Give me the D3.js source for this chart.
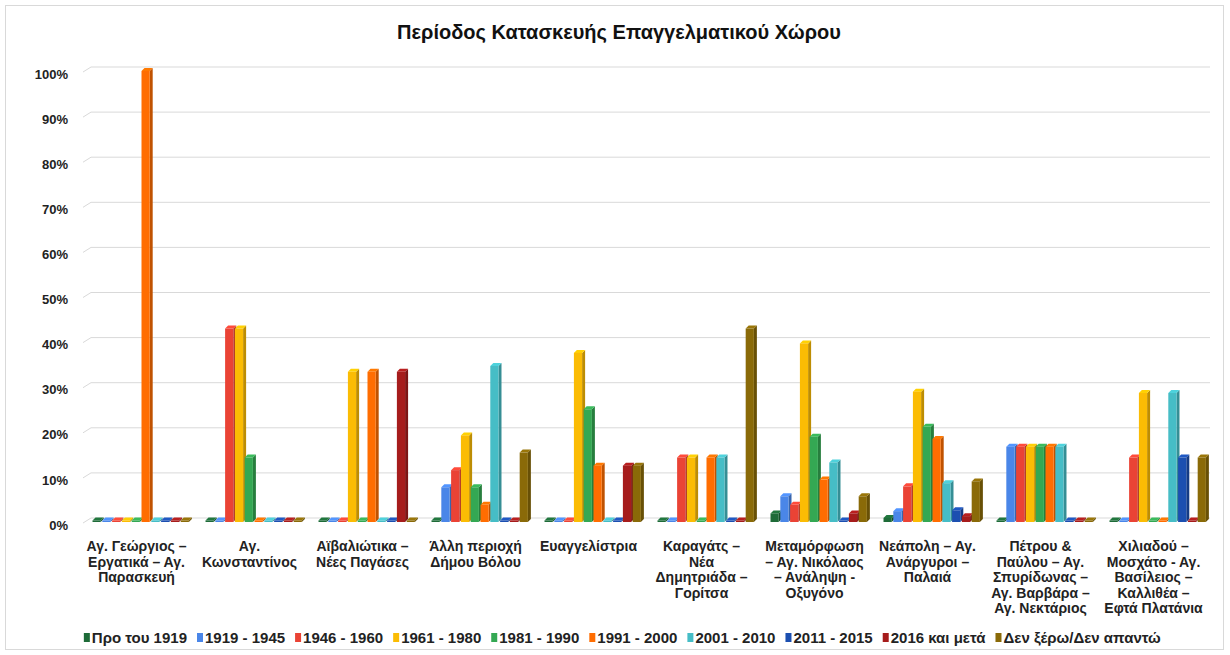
<!DOCTYPE html>
<html>
<head>
<meta charset="utf-8">
<script src="https://cdn.jsdelivr.net/npm/d3@7"></script>
<style>
  html, body { margin: 0; padding: 0; background: #fff; }
  svg { display: block; font-family: "Liberation Sans", Arial, sans-serif; }
</style>
</head>
<body>
<svg id="chart" width="1230" height="655"></svg>
<script>
// ---------------- DATA ----------------
const chartTitle = "Περίοδος Κατασκευής Επαγγελματικού Χώρου";

const categories = [
  "Αγ. Γεώργιος – Εργατικά – Αγ. Παρασκευή",
  "Αγ. Κωνσταντίνος",
  "Αϊβαλιώτικα – Νέες Παγάσες",
  "Άλλη περιοχή Δήμου Βόλου",
  "Ευαγγελίστρια",
  "Καραγάτς – Νέα Δημητριάδα – Γορίτσα",
  "Μεταμόρφωση – Αγ. Νικόλαος – Ανάληψη - Οξυγόνο",
  "Νεάπολη – Αγ. Ανάργυροι – Παλαιά",
  "Πέτρου & Παύλου – Αγ. Σπυρίδωνας – Αγ. Βαρβάρα – Αγ. Νεκτάριος",
  "Χιλιαδού – Μοσχάτο - Αγ. Βασίλειος – Καλλιθέα – Εφτά Πλατάνια"
];

const categoryLines = [
  ["Αγ. Γεώργιος –", "Εργατικά – Αγ.", "Παρασκευή"],
  ["Αγ.", "Κωνσταντίνος"],
  ["Αϊβαλιώτικα –", "Νέες Παγάσες"],
  ["Άλλη περιοχή", "Δήμου Βόλου"],
  ["Ευαγγελίστρια"],
  ["Καραγάτς –", "Νέα", "Δημητριάδα –", "Γορίτσα"],
  ["Μεταμόρφωση", "– Αγ. Νικόλαος", "– Ανάληψη -", "Οξυγόνο"],
  ["Νεάπολη – Αγ.", "Ανάργυροι –", "Παλαιά"],
  ["Πέτρου &", "Παύλου – Αγ.", "Σπυρίδωνας –", "Αγ. Βαρβάρα –", "Αγ. Νεκτάριος"],
  ["Χιλιαδού –", "Μοσχάτο - Αγ.", "Βασίλειος –", "Καλλιθέα –", "Εφτά Πλατάνια"]
];

const seriesNames = [
  "Προ του 1919", "1919 - 1945", "1946 - 1960", "1961 - 1980", "1981 - 1990",
  "1991 - 2000", "2001 - 2010", "2011 - 2015", "2016 και μετά", "Δεν ξέρω/Δεν απαντώ"
];

const seriesColors = [
  "#1e6b38", "#4a86e8", "#ea4335", "#fbbc04", "#34a853",
  "#ff6d01", "#46bdc6", "#1c4fb0", "#a61c1c", "#8a6a08"
];

// values in percent, one entry per category
const valPro1919   = [0, 0, 0, 0, 0, 0, 1.9, 0.9, 0, 0];
const val1919_1945 = [0, 0, 0, 7.7, 0, 0, 5.7, 2.4, 16.7, 0];
const val1946_1960 = [0, 42.9, 0, 11.5, 0, 14.3, 3.8, 7.9, 16.7, 14.3];
const val1961_1980 = [0, 42.9, 33.3, 19.2, 37.5, 14.3, 39.6, 28.9, 16.7, 28.6];
const val1981_1990 = [0, 14.3, 0, 7.7, 25.0, 0, 18.9, 21.1, 16.7, 0];
const val1991_2000 = [100, 0, 33.3, 3.8, 12.5, 14.3, 9.4, 18.4, 16.7, 0];
const val2001_2010 = [0, 0, 0, 34.6, 0, 14.3, 13.2, 8.6, 16.7, 28.6];
const val2011_2015 = [0, 0, 0, 0, 0, 0, 0, 2.6, 0, 14.3];
const val2016      = [0, 0, 33.3, 0, 12.5, 0, 1.9, 1.3, 0, 0];
const valDontKnow  = [0, 0, 0, 15.4, 12.5, 42.9, 5.7, 9.0, 0, 14.3];

const seriesValues = [valPro1919, val1919_1945, val1946_1960, val1961_1980, val1981_1990,
  val1991_2000, val2001_2010, val2011_2015, val2016, valDontKnow];

const yTicks = [0, 0.1, 0.2, 0.3, 0.4, 0.5, 0.6, 0.7, 0.8, 0.9, 1.0];

// ---------------- DRAW ----------------
const svg = d3.select("#chart");

// outer frame
svg.append("rect").attr("x", 5.5).attr("y", 5.5).attr("width", 1218).attr("height", 644)
  .attr("fill", "#fff").attr("stroke", "#d9d9d9").attr("stroke-width", 1);

// title
svg.append("text").attr("x", 619).attr("y", 39).attr("text-anchor", "middle")
  .attr("font-size", 20).attr("font-weight", "bold").attr("fill", "#111").text(chartTitle);

const x = d3.scaleBand().domain(categories).range([85, 1215])
  .paddingInner(0.133).paddingOuter(0.0665);
const xs = d3.scaleBand().domain(seriesNames).range([0, x.bandwidth()]).padding(0);
const y = d3.scaleLinear().domain([0, 1]).range([522, 71]);

const plotRight = 1210;
const backDy = 4;

// gridlines (back wall) with diagonal on the left
const grid = svg.append("g");
yTicks.forEach(t => {
  const yy = y(t) - backDy;
  grid.append("path")
    .attr("d", `M83,${yy + 5}L91,${yy}H${plotRight}`)
    .attr("fill", "none").attr("stroke", "#d9d9d9").attr("stroke-width", 1);
});

// y axis labels
const yAxis = d3.axisLeft(y).tickValues(yTicks).tickFormat(d3.format(".0%")).tickSize(0).tickPadding(0);
const yg = svg.append("g").attr("transform", "translate(68,3)").call(yAxis);
yg.select(".domain").remove();
yg.selectAll("text").attr("font-size", 13).attr("font-weight", "bold").attr("fill", "#222")
  .attr("font-family", "'Liberation Sans', Arial, sans-serif");

// bars (3D-like)
const barW = xs.bandwidth() - 1.6;
const depthX = 3, depthY = 3;
const barsG = svg.append("g");
categories.forEach((cat, ci) => {
  seriesNames.forEach((s, si) => {
    const v = seriesValues[si][ci] / 100;
    const x0 = x(cat) + xs(s);
    const yBase = y(0);
    let yTop = y(v);
    if (yBase - yTop < 1.5) yTop = yBase - 1.5;
    const c = d3.color(seriesColors[si]);
    const dark = c.darker(0.8);
    const light = c.brighter(0.3);
    barsG.append("path")
      .attr("d", `M${x0 + barW},${yBase}L${x0 + barW + depthX},${yBase - depthY}L${x0 + barW + depthX},${yTop - depthY}L${x0 + barW},${yTop}Z`)
      .attr("fill", dark);
    barsG.append("path")
      .attr("d", `M${x0},${yTop}L${x0 + depthX},${yTop - depthY}L${x0 + barW + depthX},${yTop - depthY}L${x0 + barW},${yTop}Z`)
      .attr("fill", light);
    barsG.append("rect")
      .attr("x", x0).attr("y", yTop).attr("width", barW).attr("height", yBase - yTop)
      .attr("fill", c);
  });
});

// category labels
const labG = svg.append("g");
categories.forEach((cat, ci) => {
  const cx = x(cat) + x.bandwidth() / 2 - 5;
  const t = labG.append("text").attr("text-anchor", "middle")
    .attr("font-size", 14).attr("font-weight", "bold").attr("fill", "#222");
  categoryLines[ci].forEach((ln, li) => {
    t.append("tspan").attr("x", cx).attr("y", 551 + li * 15.5).text(ln);
  });
});

// legend
const legG = svg.append("g");
let lx = 0;
const starts = [];
seriesNames.forEach((s, i) => {
  const g = legG.append("g");
  g.append("rect").attr("x", 0).attr("y", -10).attr("width", 6).attr("height", 9).attr("fill", seriesColors[i]);
  const tx = g.append("text").attr("x", 8).attr("y", 0).attr("font-size", 15)
    .attr("font-weight", "bold").attr("fill", "#222").text(s);
  const w = 8 + tx.node().getComputedTextLength();
  g.attr("transform", `translate(${lx},0)`);
  starts.push(lx);
  lx += w + 10;
});
legG.attr("transform", `translate(${197 - starts[1]},643)`);
</script>
</body>
</html>
